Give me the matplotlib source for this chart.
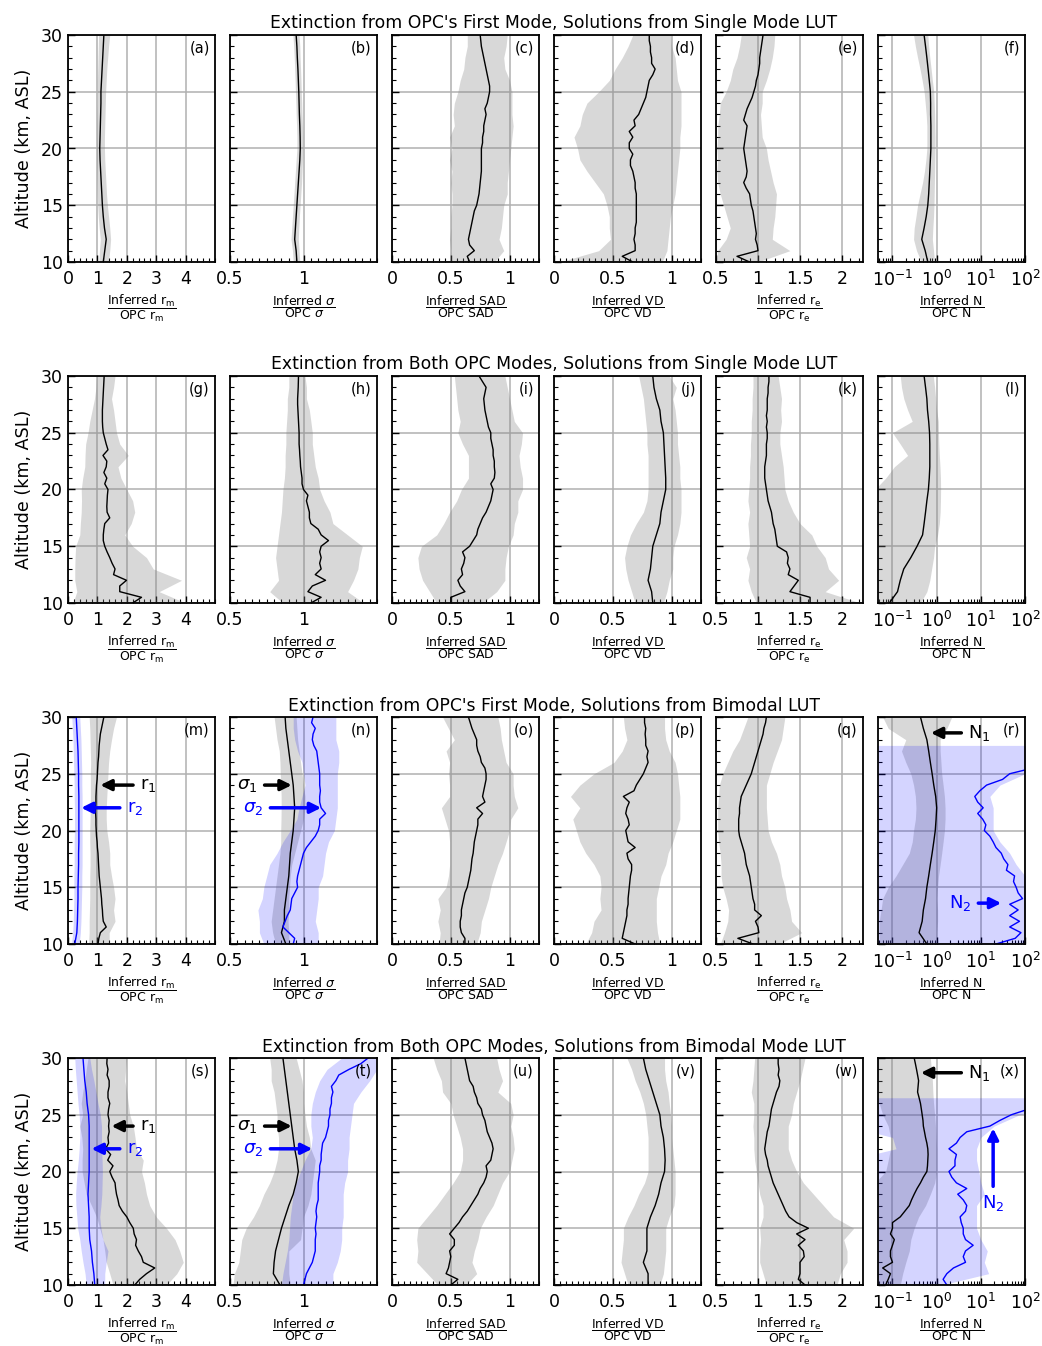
# Inferred / OPC ratio profiles, 4 retrieval setups x 6 parameters
import numpy as np
import matplotlib.pyplot as plt
from matplotlib.ticker import (FixedLocator, MultipleLocator, FuncFormatter,
                               LogLocator, LogFormatterSciNotation, NullFormatter)

nan = np.nan

# altitude grids (km, ASL)
alt = np.arange(10, 31, 1.0)
alt_fine = np.arange(10, 30.5, 0.5)
alt_r_n2 = [10, 11, 12, 13, 14, 15, 16, 17, 18, 19, 20, 21, 22, 23, 24, 25, 26, 27, 27.5]
alt_x_n2 = [10, 11, 12, 13, 14, 15, 16, 17, 18, 19, 20, 21, 22, 23, 24, 25, 26, 26.5]

row_titles = ["Extinction from OPC's First Mode, Solutions from Single Mode LUT",
              "Extinction from Both OPC Modes, Solutions from Single Mode LUT",
              "Extinction from OPC's First Mode, Solutions from Bimodal LUT",
              "Extinction from Both OPC Modes, Solutions from Bimodal Mode LUT"]
letters = "abcdefghijklmnopqrstuvwx"
xlabels = [r"$\dfrac{\mathrm{Inferred\ r_m}}{\mathrm{OPC\ r_m}}$",
           r"$\dfrac{\mathrm{Inferred}\ \sigma}{\mathrm{OPC}\ \sigma}$",
           r"$\dfrac{\mathrm{Inferred\ SAD}}{\mathrm{OPC\ SAD}}$",
           r"$\dfrac{\mathrm{Inferred\ VD}}{\mathrm{OPC\ VD}}$",
           r"$\dfrac{\mathrm{Inferred\ r_e}}{\mathrm{OPC\ r_e}}$",
           r"$\dfrac{\mathrm{Inferred\ N}}{\mathrm{OPC\ N}}$"]

# ---- row 1 ----
a_med = [1.2, 1.25, 1.3, 1.24, 1.2, 1.17, 1.15, 1.13, 1.11, 1.09, 1.08, 1.09, 1.1, 1.11, 1.12, 1.12, 1.14, 1.16, 1.18, 1.2, 1.22]
a_lo = [1.05, 1.07, 1.1, 1.06, 1.03, 1.01, 1.0, 0.99, 0.98, 0.97, 0.97, 0.98, 0.98, 0.99, 1.0, 1.0, 1.0, 1.01, 1.02, 1.03, 1.04]
a_hi = [1.38, 1.42, 1.45, 1.42, 1.38, 1.34, 1.31, 1.29, 1.27, 1.25, 1.24, 1.24, 1.25, 1.26, 1.27, 1.28, 1.3, 1.32, 1.35, 1.38, 1.42]

b_med = [0.955, 0.95, 0.94, 0.945, 0.95, 0.955, 0.96, 0.965, 0.97, 0.975, 0.978, 0.977, 0.975, 0.972, 0.97, 0.968, 0.965, 0.962, 0.958, 0.955, 0.95]
b_lo = [0.93, 0.925, 0.915, 0.92, 0.925, 0.93, 0.935, 0.94, 0.945, 0.95, 0.955, 0.955, 0.953, 0.95, 0.948, 0.945, 0.943, 0.94, 0.937, 0.933, 0.928]
b_hi = [0.975, 0.97, 0.965, 0.968, 0.972, 0.977, 0.982, 0.987, 0.99, 0.993, 0.995, 0.995, 0.993, 0.99, 0.988, 0.985, 0.983, 0.98, 0.977, 0.975, 0.97]

c_med = [0.66, 0.64, 0.70, 0.66, 0.65, 0.66, 0.67, 0.68, 0.69, 0.70,
         0.72, 0.73, 0.74, 0.745, 0.75, 0.755, 0.76, 0.76, 0.76, 0.76,
         0.76, 0.77, 0.77, 0.78, 0.78, 0.79, 0.80, 0.79, 0.81, 0.82,
         0.83, 0.83, 0.82, 0.81, 0.80, 0.79, 0.78, 0.77, 0.76, 0.755,
         0.75]
c_lo = [0.49, 0.5, 0.49, 0.5, 0.5, 0.51, 0.51, 0.5, 0.51, 0.49, 0.51, 0.49, 0.53, 0.52, 0.53, 0.56, 0.58, 0.61, 0.62, 0.64, 0.64]
c_hi = [0.87, 0.95, 0.91, 0.93, 0.94, 0.95, 0.98, 0.98, 0.99, 1.0, 1.01, 1.02, 1.03, 1.02, 1.02, 1.02, 1.0, 0.96, 0.95, 0.97, 0.98]

d_med = [0.67, 0.58, 0.69, 0.69, 0.68, 0.69, 0.69, 0.70, 0.70, 0.70,
         0.70, 0.70, 0.70, 0.69, 0.69, 0.68, 0.67, 0.65, 0.65, 0.67,
         0.64, 0.64, 0.67, 0.64, 0.69, 0.68, 0.72, 0.74, 0.76, 0.78,
         0.79, 0.80, 0.81, 0.84, 0.86, 0.83, 0.83, 0.82, 0.82, 0.81,
         0.81]
d_lo = [0.05, 0.38, 0.48, 0.47, 0.47, 0.45, 0.42, 0.35, 0.28, 0.22, 0.20, 0.17, 0.22, 0.24, 0.28, 0.38, 0.47, 0.52, 0.58, 0.63, 0.67]
d_hi = [0.92, 0.96, 0.97, 0.98, 0.99, 1.01, 1.03, 1.04, 1.05, 1.06, 1.07, 1.07, 1.08, 1.08, 1.08, 1.08, 1.05, 1.04, 1.03, 1.0, 0.99]

e_med = [0.90, 0.75, 1.00, 0.99, 0.97, 0.98, 0.97, 0.96, 0.95, 0.94,
         0.92, 0.91, 0.90, 0.86, 0.83, 0.86, 0.87, 0.86, 0.85, 0.84,
         0.83, 0.84, 0.85, 0.86, 0.87, 0.83, 0.85, 0.87, 0.90, 0.93,
         0.95, 0.97, 0.98, 1.00, 1.01, 1.02, 1.02, 1.03, 1.04, 1.05,
         1.06]
e_lo = [0.5, 0.52, 0.62, 0.67, 0.63, 0.59, 0.55, 0.52, 0.51, 0.52, 0.51, 0.52, 0.52, 0.54, 0.55, 0.62, 0.67, 0.7, 0.75, 0.78, 0.8]
e_hi = [1.0, 1.38, 1.17, 1.18, 1.2, 1.21, 1.22, 1.18, 1.15, 1.12, 1.1, 1.05, 1.04, 1.03, 1.05, 1.05, 1.1, 1.14, 1.17, 1.19, 1.2]

f_med = [0.63, 0.55, 0.46, 0.52, 0.58, 0.63, 0.66, 0.68, 0.7, 0.72, 0.74, 0.74, 0.74, 0.73, 0.73, 0.72, 0.68, 0.64, 0.6, 0.56, 0.52]
f_lo = [0.45, 0.35, 0.3, 0.31, 0.34, 0.37, 0.42, 0.48, 0.53, 0.57, 0.6, 0.6, 0.6, 0.58, 0.55, 0.52, 0.47, 0.42, 0.37, 0.33, 0.3]
f_hi = [0.9, 0.85, 0.8, 0.82, 0.85, 0.87, 0.88, 0.89, 0.9, 0.91, 0.92, 0.92, 0.91, 0.9, 0.88, 0.86, 0.8, 0.75, 0.7, 0.66, 0.63]

# ---- row 2 ----
g_med = [2.2, 2.5, 1.76, 1.76, 1.99, 1.55, 1.6, 1.5, 1.42, 1.33,
         1.25, 1.2, 1.2, 1.22, 1.25, 1.42, 1.33, 1.32, 1.33, 1.34,
         1.36, 1.25, 1.32, 1.22, 1.3, 1.32, 1.19, 1.36, 1.3, 1.25,
         1.2, 1.18, 1.17, 1.17, 1.17, 1.18, 1.19, 1.2, 1.21, 1.22,
         1.23]
g_lo = [0.17, 0.3, 0.23, 0.23, 0.24, 0.26, 0.4, 0.42, 0.45, 0.46, 0.45, 0.5, 0.57, 0.58, 0.6, 0.68, 0.74, 0.82, 0.9, 0.95, 0.97]
g_hi = [4.0, 3.1, 3.86, 2.9, 2.67, 2.2, 1.93, 2.15, 2.27, 2.2, 2.0, 1.8, 1.7, 2.05, 1.76, 1.65, 1.6, 1.55, 1.48, 1.55, 1.6]

h_med = [1.05, 1.12, 1.03, 1.06, 1.15, 1.08, 1.12, 1.11, 1.12, 1.11,
         1.12, 1.17, 1.12, 1.1, 1.05, 1.04, 1.04, 1.03, 1.02, 1.03,
         1.0, 0.99, 0.99, 0.985, 0.98, 0.978, 0.975, 0.973, 0.97, 0.97,
         0.97, 0.968, 0.966, 0.964, 0.962, 0.96, 0.96, 0.962, 0.964, 0.965,
         0.966]
h_lo = [0.86, 0.77, 0.83, 0.82, 0.81, 0.82, 0.83, 0.84, 0.85, 0.855, 0.86, 0.87, 0.875, 0.875, 0.88, 0.88, 0.885, 0.89, 0.89, 0.9, 0.9]
h_hi = [1.41, 1.3, 1.34, 1.37, 1.38, 1.4, 1.3, 1.2, 1.18, 1.14, 1.11, 1.1, 1.08, 1.07, 1.06, 1.06, 1.05, 1.04, 1.02, 1.02, 1.01]

i_med = [0.5, 0.5, 0.62, 0.58, 0.56, 0.6, 0.59, 0.61, 0.62, 0.6,
         0.66, 0.69, 0.72, 0.73, 0.75, 0.77, 0.8, 0.82, 0.84, 0.85,
         0.86, 0.84, 0.87, 0.875, 0.87, 0.87, 0.86, 0.86, 0.85, 0.84,
         0.84, 0.82, 0.81, 0.8, 0.79, 0.785, 0.78, 0.79, 0.8, 0.77,
         0.74]
i_lo = [0.38, 0.32, 0.26, 0.23, 0.22, 0.25, 0.38, 0.44, 0.49, 0.55, 0.59, 0.65, 0.65, 0.65, 0.6, 0.56, 0.58, 0.56, 0.55, 0.54, 0.53]
i_hi = [0.77, 0.89, 0.96, 0.96, 0.97, 0.99, 1.03, 1.04, 1.07, 1.07, 1.11, 1.11, 1.09, 1.08, 1.1, 1.11, 1.04, 1.02, 1.0, 0.98, 0.96]

j_med = [0.84, 0.83, 0.8, 0.82, 0.83, 0.84, 0.87, 0.9, 0.91, 0.93, 0.95, 0.95, 0.945, 0.94, 0.935, 0.93, 0.91, 0.9, 0.87, 0.85, 0.84]
j_lo = [0.69, 0.66, 0.63, 0.61, 0.6, 0.62, 0.65, 0.7, 0.76, 0.79, 0.8, 0.8, 0.8, 0.8, 0.79, 0.79, 0.78, 0.77, 0.76, 0.74, 0.72]
j_hi = [0.93, 0.96, 0.98, 1.01, 1.01, 1.02, 1.05, 1.07, 1.08, 1.08, 1.08, 1.07, 1.07, 1.06, 1.05, 1.05, 1.04, 1.03, 1.01, 1.04, 0.98]

k_med = [1.62, 1.62, 1.38, 1.43, 1.48, 1.36, 1.38, 1.35, 1.36, 1.34,
         1.23, 1.22, 1.21, 1.2, 1.18, 1.17, 1.16, 1.14, 1.12, 1.11,
         1.1, 1.09, 1.08, 1.08, 1.08, 1.09, 1.1, 1.1, 1.1, 1.11,
         1.11, 1.1, 1.11, 1.1, 1.11, 1.11, 1.11, 1.12, 1.12, 1.13,
         1.13]
k_lo = [0.98, 0.92, 0.88, 0.9, 0.86, 0.9, 0.89, 0.88, 0.9, 0.88, 0.89, 0.9, 0.9, 0.91, 0.91, 0.92, 0.92, 0.93, 0.93, 0.94, 0.94]
k_hi = [2.22, 1.8, 1.96, 1.84, 1.8, 1.7, 1.64, 1.5, 1.42, 1.36, 1.32, 1.31, 1.3, 1.28, 1.26, 1.26, 1.28, 1.27, 1.28, 1.26, 1.24]

l_med = [0.085, 0.13, 0.15, 0.18, 0.26, 0.36, 0.48, 0.52, 0.56, 0.6, 0.65, 0.68, 0.7, 0.7, 0.7, 0.69, 0.66, 0.62, 0.6, 0.56, 0.52]
l_lo = [0.03, 0.03, 0.03, 0.03, 0.03, 0.03, 0.03, 0.03, 0.03, 0.03, 0.04, 0.07, 0.11, 0.22, 0.15, 0.1, 0.28, 0.22, 0.18, 0.16, 0.15]
l_hi = [0.43, 0.6, 0.7, 0.77, 0.85, 0.9, 1.05, 1.15, 1.2, 1.22, 1.23, 1.22, 1.19, 1.15, 1.12, 1.1, 1.09, 1.0, 0.95, 0.9, 0.84]

# ---- row 3 ----
m_med = [1.02, 1.05, 1.1, 1.3, 1.2, 1.18, 1.17, 1.15, 1.14, 1.12,
         1.1, 1.08, 1.06, 1.05, 1.04, 1.03, 1.02, 1.0, 0.99, 0.97,
         0.96, 0.95, 0.95, 0.94, 0.94, 0.95, 0.95, 0.96, 0.97, 0.99,
         1.0, 1.01, 1.02, 1.04, 1.05, 1.06, 1.08, 1.1, 1.14, 1.18,
         1.22]
m_lo = [0.7, 0.72, 0.72, 0.73, 0.74, 0.74, 0.74, 0.75, 0.75, 0.74, 0.74, 0.75, 0.76, 0.76, 0.76, 0.76, 0.77, 0.76, 0.75, 0.74, 0.72]
m_hi = [1.4, 1.4, 1.6, 1.55, 1.6, 1.55, 1.48, 1.42, 1.42, 1.38, 1.32, 1.3, 1.3, 1.32, 1.34, 1.36, 1.38, 1.42, 1.48, 1.55, 1.65]
m2_med = [0.23, 0.3, 0.32, 0.33, 0.34, 0.34, 0.35, 0.36, 0.36, 0.37, 0.37, 0.37, 0.37, 0.37, 0.36, 0.36, 0.35, 0.34, 0.32, 0.3, 0.28]
m2_lo = [0.12, 0.16, 0.18, 0.19, 0.2, 0.2, 0.2, 0.21, 0.21, 0.21, 0.22, 0.22, 0.22, 0.21, 0.21, 0.2, 0.19, 0.18, 0.17, 0.15, 0.13]
m2_hi = [0.38, 0.42, 0.44, 0.45, 0.46, 0.47, 0.47, 0.48, 0.48, 0.48, 0.48, 0.48, 0.48, 0.48, 0.47, 0.47, 0.46, 0.45, 0.44, 0.42, 0.4]

n_med = [0.88, 0.85, 0.87, 0.87, 0.88, 0.89, 0.9, 0.905, 0.91, 0.92, 0.93, 0.935, 0.94, 0.935, 0.93, 0.92, 0.91, 0.9, 0.89, 0.88, 0.875]
n_lo = [0.81, 0.79, 0.78, 0.79, 0.8, 0.81, 0.82, 0.83, 0.84, 0.845, 0.845, 0.847, 0.848, 0.848, 0.845, 0.842, 0.84, 0.835, 0.82, 0.81, 0.8]
n_hi = [0.9, 0.9, 0.895, 0.9, 0.9, 0.905, 0.91, 0.92, 0.94, 0.96, 0.98, 1.0, 1.01, 1.01, 1.0, 0.99, 0.98, 0.97, 0.96, 0.955, 0.95]
n2_med = [0.93, 0.94, 0.9, 0.86, 0.875, 0.89, 0.91, 0.915, 0.92, 0.94,
          0.96, 0.955, 0.96, 0.97, 0.98, 0.99, 1.0, 1.02, 1.05, 1.08,
          1.1, 1.11, 1.11, 1.15, 1.12, 1.11, 1.11, 1.115, 1.11, 1.11,
          1.11, 1.105, 1.1, 1.095, 1.09, 1.07, 1.06, 1.065, 1.08, 1.055,
          1.065]
n2_lo = [0.73, 0.7, 0.7, 0.69, 0.72, 0.73, 0.75, 0.77, 0.82, 0.86, 0.91, 0.955, 0.97, 0.99, 1.01, 1.0, 0.99, 0.96, 0.94, 0.93, 0.93]
n2_hi = [1.1, 1.1, 1.08, 1.09, 1.1, 1.1, 1.13, 1.14, 1.15, 1.17, 1.21, 1.22, 1.23, 1.23, 1.23, 1.23, 1.24, 1.24, 1.22, 1.22, 1.22]

o_med = [0.62, 0.62, 0.59, 0.58, 0.58, 0.59, 0.59, 0.6, 0.61, 0.62,
         0.64, 0.65, 0.66, 0.67, 0.675, 0.68, 0.69, 0.695, 0.7, 0.71,
         0.72, 0.73, 0.73, 0.77, 0.72, 0.79, 0.77, 0.78, 0.79, 0.8,
         0.8, 0.79, 0.76, 0.75, 0.73, 0.72, 0.72, 0.7, 0.68, 0.665,
         0.65]
o_lo = [0.4, 0.41, 0.39, 0.41, 0.39, 0.46, 0.48, 0.49, 0.49, 0.49, 0.48, 0.45, 0.42, 0.49, 0.49, 0.48, 0.49, 0.46, 0.53, 0.48, 0.43]
o_hi = [0.72, 0.75, 0.76, 0.79, 0.82, 0.84, 0.87, 0.9, 0.94, 0.97, 1.0, 1.01, 1.07, 1.04, 1.03, 1.03, 0.97, 0.95, 0.93, 0.92, 0.9]

p_med = [0.69, 0.58, 0.59, 0.6, 0.61, 0.62, 0.62, 0.63, 0.63, 0.635,
         0.64, 0.645, 0.65, 0.66, 0.66, 0.63, 0.62, 0.69, 0.63, 0.62,
         0.61, 0.64, 0.63, 0.61, 0.62, 0.64, 0.59, 0.68, 0.7, 0.73,
         0.76, 0.78, 0.8, 0.79, 0.8, 0.78, 0.78, 0.775, 0.78, 0.77,
         0.77]
p_lo = [0.27, 0.32, 0.34, 0.4, 0.39, 0.4, 0.39, 0.34, 0.27, 0.22, 0.19, 0.16, 0.22, 0.14, 0.22, 0.34, 0.51, 0.58, 0.62, 0.6, 0.59]
p_hi = [0.9, 0.88, 0.87, 0.87, 0.87, 0.89, 0.91, 0.95, 0.97, 1.01, 1.04, 1.07, 1.07, 1.07, 1.06, 1.05, 1.03, 0.98, 0.95, 0.94, 0.94]

q_med = [0.94, 0.76, 1.01, 1.0, 0.97, 1.04, 0.96, 0.96, 0.94, 0.93,
         0.92, 0.91, 0.9, 0.88, 0.86, 0.85, 0.84, 0.82, 0.8, 0.78,
         0.77, 0.77, 0.77, 0.78, 0.78, 0.79, 0.8, 0.83, 0.86, 0.89,
         0.92, 0.94, 0.96, 0.98, 1.0, 1.02, 1.04, 1.06, 1.07, 1.09,
         1.1]
q_lo = [0.55, 0.6, 0.64, 0.65, 0.62, 0.58, 0.56, 0.56, 0.55, 0.53, 0.52, 0.52, 0.52, 0.53, 0.54, 0.58, 0.64, 0.7, 0.78, 0.83, 0.88]
q_hi = [1.25, 1.52, 1.4, 1.38, 1.34, 1.32, 1.28, 1.26, 1.22, 1.16, 1.12, 1.11, 1.1, 1.1, 1.1, 1.14, 1.18, 1.23, 1.28, 1.3, 1.32]

r_med = [0.6, 0.4, 0.47, 0.5, 0.56, 0.6, 0.66, 0.72, 0.79, 0.86, 0.93, 0.97, 1.0, 0.95, 0.86, 0.79, 0.72, 0.66, 0.6, 0.5, 0.43]
r_lo = [0.05, 0.05, 0.05, 0.055, 0.06, 0.08, 0.12, 0.17, 0.24, 0.28, 0.3, 0.33, 0.34, 0.33, 0.3, 0.26, 0.2, 0.16, 0.2, 0.08, 0.06]
r_hi = [1.0, 1.0, 1.05, 1.05, 1.0, 1.05, 1.1, 1.2, 1.3, 1.4, 1.5, 1.55, 1.55, 1.5, 1.4, 1.3, 1.25, 1.2, 1.2, 1.7, 2.2]
r2_med = [22, 60, 81, 45, 75, 45, 70, 45, 88, 70,
          63, 55, 58, 38, 41, 33, 29, 22, 19, 16,
          12, 13, 11, 8.5, 11.3, 8.5, 7.3, 9.5, 13.5, 31,
          45, 150, nan, nan, nan, nan, nan, nan, nan, nan,
          nan]
r2_lo = [0.01] * len(alt_r_n2)
r2_hi = [1000, 1000, 1000, 1000, 1000, 1000, 100, 63, 45, 27, 19, 19, 19, 16, 27, 100, 1000, 1000, 1000]

# ---- row 4 ----
s_med = [2.27, 2.44, 2.67, 2.95, 2.56, 2.5, 2.39, 2.3, 2.33, 2.25,
         2.22, 2.1, 2.0, 1.85, 1.74, 1.7, 1.65, 1.62, 1.6, 1.5,
         1.42, 1.53, 1.35, 1.45, 1.28, 1.38, 1.36, 1.4, 1.38, 1.4,
         1.36, 1.38, 1.42, 1.36, 1.36, 1.4, 1.4, 1.33, 1.36, 1.32,
         1.33]
s_lo = [1.53, 1.42, 1.3, 1.25, 1.19, 1.08, 0.97, 0.8, 0.62, 0.55, 0.48, 0.48, 0.5, 0.47, 0.4, 0.5, 0.45, 0.5, 0.57, 0.62, 0.68]
s_hi = [3.35, 3.7, 3.92, 3.8, 3.64, 3.35, 3.0, 2.78, 2.67, 2.6, 2.5, 2.56, 2.33, 2.28, 2.22, 2.1, 2.05, 2.0, 1.93, 1.96, 2.0]
s2_med = [0.91, 0.88, 0.83, 0.8, 0.74, 0.72, 0.72, 0.7, 0.68, 0.7, 0.72, 0.72, 0.72, 0.72, 0.72, 0.7, 0.65, 0.62, 0.57, 0.54, 0.51]
s2_lo = [0.62, 0.58, 0.51, 0.45, 0.4, 0.33, 0.3, 0.27, 0.26, 0.28, 0.31, 0.35, 0.38, 0.4, 0.4, 0.38, 0.34, 0.31, 0.28, 0.25, 0.23]
s2_hi = [1.25, 1.25, 1.3, 1.36, 1.19, 1.12, 1.08, 1.12, 1.15, 1.16, 1.17, 1.16, 1.14, 1.14, 1.14, 1.1, 1.02, 0.95, 0.88, 0.8, 0.74]

t_med = [0.84, 0.795, 0.8, 0.81, 0.83, 0.85, 0.875, 0.9, 0.93, 0.95, 0.965, 0.955, 0.94, 0.93, 0.92, 0.91, 0.9, 0.89, 0.88, 0.87, 0.86]
t_lo = [0.52, 0.53, 0.56, 0.57, 0.58, 0.61, 0.66, 0.7, 0.73, 0.77, 0.8, 0.82, 0.83, 0.83, 0.82, 0.82, 0.81, 0.8, 0.78, 0.78, 0.77]
t_hi = [0.91, 0.9, 0.9, 0.9, 0.98, 0.99, 1.0, 1.03, 1.05, 1.06, 1.07, 1.08, 1.05, 1.04, 1.02, 1.01, 1.0, 1.0, 0.99, 0.97, 0.95]
t2_med = [1.0, 1.01, 1.02, 1.04, 1.06, 1.07, 1.08, 1.08, 1.08, 1.085,
          1.08, 1.085, 1.09, 1.085, 1.09, 1.1, 1.1, 1.1, 1.1, 1.105,
          1.11, 1.11, 1.12, 1.12, 1.125, 1.13, 1.15, 1.16, 1.17, 1.17,
          1.18, 1.18, 1.19, 1.19, 1.2, 1.19, 1.22, 1.24, 1.31, 1.39,
          1.44]
t2_lo = [0.85, 0.86, 0.875, 0.89, 0.9, 0.905, 0.91, 0.92, 0.93, 0.95, 0.98, 1.01, 1.05, 1.06, 1.05, 1.05, 1.06, 1.08, 1.11, 1.16, 1.26]
t2_hi = [1.2, 1.2, 1.23, 1.25, 1.26, 1.26, 1.27, 1.27, 1.27, 1.28, 1.3, 1.3, 1.31, 1.31, 1.32, 1.33, 1.34, 1.39, 1.45, 1.5, 1.5]

u_med = [0.5, 0.56, 0.46, 0.48, 0.49, 0.5, 0.49, 0.53, 0.53, 0.49,
         0.53, 0.57, 0.6, 0.64, 0.67, 0.7, 0.73, 0.75, 0.78, 0.8,
         0.81, 0.8, 0.84, 0.85, 0.86, 0.85, 0.83, 0.81, 0.8, 0.79,
         0.77, 0.76, 0.73, 0.72, 0.7, 0.69, 0.66, 0.65, 0.64, 0.63,
         0.62]
u_lo = [0.39, 0.3, 0.21, 0.22, 0.21, 0.22, 0.3, 0.38, 0.45, 0.52, 0.58, 0.6, 0.6, 0.58, 0.55, 0.52, 0.5, 0.43, 0.42, 0.38, 0.35]
u_hi = [0.63, 0.72, 0.68, 0.7, 0.73, 0.75, 0.8, 0.86, 0.9, 0.94, 1.0, 1.02, 1.04, 1.03, 1.01, 1.03, 1.01, 0.9, 0.94, 0.91, 0.89]

v_med = [0.8, 0.8, 0.76, 0.79, 0.79, 0.79, 0.82, 0.86, 0.89, 0.91, 0.94, 0.945, 0.94, 0.93, 0.91, 0.9, 0.87, 0.84, 0.81, 0.78, 0.76]
v_lo = [0.63, 0.6, 0.57, 0.58, 0.59, 0.59, 0.63, 0.68, 0.72, 0.77, 0.8, 0.8, 0.8, 0.8, 0.79, 0.78, 0.76, 0.73, 0.69, 0.66, 0.62]
v_hi = [0.9, 0.93, 0.94, 0.95, 0.95, 0.95, 0.98, 1.02, 1.03, 1.03, 1.03, 1.02, 1.01, 1.0, 1.0, 0.99, 0.98, 0.97, 0.95, 0.94, 0.94]

w_med = [1.56, 1.48, 1.5, 1.5, 1.5, 1.55, 1.54, 1.48, 1.56, 1.46,
         1.6, 1.46, 1.37, 1.33, 1.3, 1.27, 1.24, 1.21, 1.18, 1.16,
         1.14, 1.12, 1.11, 1.09, 1.08, 1.09, 1.1, 1.11, 1.13, 1.14,
         1.15, 1.16, 1.18, 1.2, 1.22, 1.25, 1.26, 1.24, 1.25, 1.24,
         1.24]
w_lo = [1.1, 1.06, 1.02, 1.02, 1.03, 1.02, 1.06, 1.06, 1.02, 1.0, 0.98, 0.96, 0.95, 0.95, 0.94, 0.95, 0.95, 0.92, 0.94, 0.95, 0.96]
w_hi = [1.94, 1.98, 2.06, 2.06, 2.02, 2.14, 1.9, 1.78, 1.66, 1.54, 1.46, 1.4, 1.36, 1.36, 1.36, 1.4, 1.42, 1.46, 1.5, 1.53, 1.56]

x_med = [0.07, 0.08, 0.09, 0.06, 0.1, 0.09, 0.09, 0.1, 0.11, 0.09,
         0.1, 0.1, 0.15, 0.19, 0.24, 0.27, 0.31, 0.36, 0.43, 0.5,
         0.6, 0.62, 0.63, 0.64, 0.63, 0.6, 0.56, 0.53, 0.5, 0.49,
         0.47, 0.45, 0.43, 0.4, 0.37, 0.38, 0.39, 0.37, 0.35, 0.33,
         0.31]
x_lo = [0.03, 0.03, 0.03, 0.03, 0.03, 0.03, 0.03, 0.03, 0.03, 0.04, 0.07, 0.08, 0.09, 0.09, 0.08, 0.06, 0.05, 0.04, 0.04, 0.04, 0.04]
x_hi = [0.15, 0.17, 0.2, 0.24, 0.26, 0.31, 0.39, 0.56, 0.72, 0.9, 1.0, 1.0, 1.0, 0.97, 0.94, 0.9, 0.85, 0.82, 0.8, 0.76, 0.72]
x2_med = [1.7, 1.4, 1.7, 2.4, 4.5, 4.0, 4.5, 6.7, 4.5, 4.0,
          4.0, 3.6, 3.4, 4.5, 4.8, 4.0, 3.0, 4.8, 2.8, 2.2,
          1.9, 2.6, 2.6, 2.8, 1.9, 2.8, 3.4, 4.8, 16, 27,
          49, 120, nan, nan, nan, nan, nan, nan, nan, nan,
          nan]
x2_lo = [0.01, 0.01, 0.01, 0.01, 0.01, 0.01, 0.01, 0.01, 0.01, 0.01, 0.01, 0.01, 0.12, 0.1, 0.01, 0.01, 0.01, 0.01]
x2_hi = [1.3, 15, 12, 14, 10, 8, 8, 8, 12, 10, 9, 8, 8, 10, 20, 75, 1000, 1000]

panels = [
    [(a_med, a_lo, a_hi), (b_med, b_lo, b_hi), (c_med, c_lo, c_hi),
     (d_med, d_lo, d_hi), (e_med, e_lo, e_hi), (f_med, f_lo, f_hi)],
    [(g_med, g_lo, g_hi), (h_med, h_lo, h_hi), (i_med, i_lo, i_hi),
     (j_med, j_lo, j_hi), (k_med, k_lo, k_hi), (l_med, l_lo, l_hi)],
    [(m_med, m_lo, m_hi), (n_med, n_lo, n_hi), (o_med, o_lo, o_hi),
     (p_med, p_lo, p_hi), (q_med, q_lo, q_hi), (r_med, r_lo, r_hi)],
    [(s_med, s_lo, s_hi), (t_med, t_lo, t_hi), (u_med, u_lo, u_hi),
     (v_med, v_lo, v_hi), (w_med, w_lo, w_hi), (x_med, x_lo, x_hi)],
]
# second mode (blue) for bimodal rows: (row, col) -> (med, lo, hi, band altitude)
second = {
    (2, 0): (m2_med, m2_lo, m2_hi, None),
    (2, 1): (n2_med, n2_lo, n2_hi, None),
    (2, 5): (r2_med, r2_lo, r2_hi, alt_r_n2),
    (3, 0): (s2_med, s2_lo, s2_hi, None),
    (3, 1): (t2_med, t2_lo, t2_hi, None),
    (3, 5): (x2_med, x2_lo, x2_hi, alt_x_n2),
}


def zgrid(v):
    if len(v) == len(alt):
        return alt
    if len(v) == len(alt_fine):
        return alt_fine
    raise ValueError("bad length %d" % len(v))


# x-axis setup per column: limits, major ticks, minor step
col_xlim = [(0, 5), (0.5, 1.5), (0, 1.25), (0, 1.25), (0.5, 2.25), (0.047, 100)]
col_major = [[0, 1, 2, 3, 4], [0.5, 1], [0, 0.5, 1], [0, 0.5, 1], [0.5, 1, 1.5, 2], [0.1, 1, 10, 100]]
col_minor = [0.2, 0.05, 0.05, 0.05, 0.1, None]

W, H = 1042, 1346
col_left = [68, 230, 392, 554, 716, 878]
row_top = [35, 376, 717, 1058]
aw, ah = 147, 227
title_y = [23, 364, 706, 1047]

fig = plt.figure(figsize=(W / 100, H / 100), dpi=100)
gray = dict(color='gray', alpha=0.3, lw=0)
blue = dict(color='blue', alpha=0.17, lw=0)
axes = {}

for r in range(4):
    fig.text(554 / W, 1 - title_y[r] / H, row_titles[r], ha='center', va='center', fontsize=12.4)
    for c in range(6):
        ax = fig.add_axes([col_left[c] / W, 1 - (row_top[r] + ah) / H, aw / W, ah / H])
        axes[(r, c)] = ax
        ax.set_axisbelow(True)
        med, lo, hi = panels[r][c]
        ax.fill_betweenx(zgrid(lo), lo, hi, **gray)
        if (r, c) in second:
            m2, l2, h2, zb = second[(r, c)]
            ax.fill_betweenx(zgrid(l2) if zb is None else zb, l2, h2, **blue)
        ax.plot(med, zgrid(med), color='k', lw=1)
        if (r, c) in second:
            ax.plot(m2, zgrid(m2), color='b', lw=1)

        ax.set_ylim(10, 30)
        if c == 5:
            ax.set_xscale('log')
            ax.xaxis.set_major_locator(FixedLocator(col_major[c]))
            ax.xaxis.set_major_formatter(LogFormatterSciNotation())
            ax.xaxis.set_minor_locator(LogLocator(base=10, subs=np.arange(2, 10), numticks=20))
            ax.xaxis.set_minor_formatter(NullFormatter())
        else:
            ax.xaxis.set_major_locator(FixedLocator(col_major[c]))
            ax.xaxis.set_major_formatter(FuncFormatter(lambda v, p: '%g' % v))
            ax.xaxis.set_minor_locator(MultipleLocator(col_minor[c]))
        ax.set_xlim(*col_xlim[c])
        ax.yaxis.set_major_locator(MultipleLocator(5))
        ax.yaxis.set_minor_locator(MultipleLocator(1))
        ax.grid(True, which='major', color='#b0b0b0', lw=1.1)
        ax.tick_params(which='both', direction='in', top=False, right=False, labelsize=12.5)
        ax.tick_params(which='major', length=5, width=1)
        ax.tick_params(which='minor', length=3, width=0.8)
        ax.tick_params(axis='x', pad=6)
        for sp in ax.spines.values():
            sp.set_linewidth(1.3)
        if c == 0:
            ax.set_ylabel('Altitude (km, ASL)', fontsize=12.6, labelpad=6)
        else:
            ax.tick_params(labelleft=False)
        ax.set_xlabel(xlabels[c], fontsize=9)
        ax.xaxis.set_label_coords(0.5, -0.135)
        ax.text(0.965, 0.975, '(%s)' % letters[r * 6 + c], transform=ax.transAxes,
                ha='right', va='top', fontsize=10.5)

# arrows with labels for the two modes
ak = dict(arrowstyle='-|>', color='k', lw=2.5, mutation_scale=16, shrinkA=3, shrinkB=0)
ab = dict(arrowstyle='-|>', color='b', lw=2.5, mutation_scale=16, shrinkA=3, shrinkB=0)
fs = 13
for r, tip1, tip2 in [(2, 1.1, 0.45), (3, 1.48, 0.8)]:
    ax = axes[(r, 0)]
    ax.annotate(r'$\mathregular{r_1}$', xy=(tip1, 24), xytext=(2.45, 24), va='center', ha='left',
                fontsize=fs, color='k', arrowprops=ak)
    ax.annotate(r'$\mathregular{r_2}$', xy=(tip2, 22), xytext=(2.0, 22), va='center', ha='left',
                fontsize=fs, color='b', arrowprops=ab)
for r, tip1, tip2 in [(2, 0.92, 1.12), (3, 0.92, 1.06)]:
    ax = axes[(r, 1)]
    ax.annotate(r'$\sigma_1$', xy=(tip1, 24), xytext=(0.55, 24), va='center', ha='left',
                fontsize=fs, color='k', arrowprops=ak)
    ax.annotate(r'$\sigma_2$', xy=(tip2, 22), xytext=(0.59, 22), va='center', ha='left',
                fontsize=fs, color='b', arrowprops=ab)
ax = axes[(2, 5)]
ax.annotate(r'$\mathregular{N_1}$', xy=(0.74, 28.6), xytext=(5.2, 28.6), va='center', ha='left',
            fontsize=fs, color='k', arrowprops=ak)
ax.annotate(r'$\mathregular{N_2}$', xy=(29, 13.6), xytext=(1.9, 13.6), va='center', ha='left',
            fontsize=fs, color='b', arrowprops=ab)
ax = axes[(3, 5)]
ax.annotate(r'$\mathregular{N_1}$', xy=(0.44, 28.7), xytext=(5.2, 28.7), va='center', ha='left',
            fontsize=fs, color='k', arrowprops=ak)
ax.annotate(r'$\mathregular{N_2}$', xy=(19, 23.8), xytext=(19, 17.2), va='center', ha='center',
            fontsize=fs, color='b', arrowprops=ab)

fig.savefig('out.png', dpi=100)
